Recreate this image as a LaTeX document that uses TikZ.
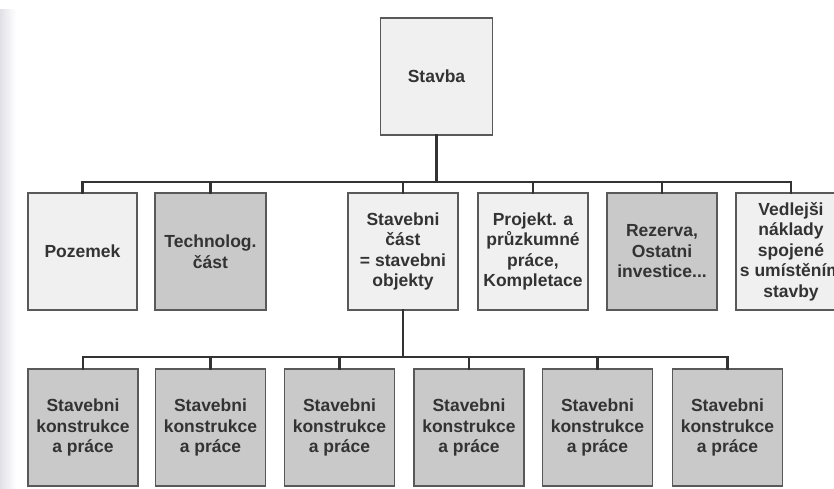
\documentclass[tikz,border=0pt]{standalone}
\usepackage{fontspec}
\setmainfont{Liberation Sans}
\definecolor{paperedge}{HTML}{E2E0E8}
\definecolor{boxlight}{HTML}{F0F0F0}
\definecolor{boxgrey}{HTML}{C9C9C9}
\definecolor{inkgrey}{HTML}{333333}
\tikzset
{
	my box/.style={draw=black!65,line width=1.2pt,fill=boxlight,text=inkgrey,
		minimum width=110pt,minimum height=117pt,inner sep=0pt,align=center,
		font=\bfseries\fontsize{17.5}{20.5}\selectfont},
	my grey box/.style={my box,fill=boxgrey},
	my line/.style={line width=2.5pt,draw=inkgrey}
}

\begin{document}
\begin{tikzpicture}[x=1pt,y=-1pt,line cap=rect,line join=miter]
		\useasboundingbox (0,0) rectangle (834,489);
		% paper edge
		\fill[left color=paperedge,right color=white] (0,10) rectangle (16,489);
		% top
		\node[my box,minimum width=112pt] (stavba) at (436.5,76.5) {Stavba};
		% first row
		\node[my box,minimum width=109pt] (pozemek) at (82.5,251.5) {Pozemek};
		\node[my grey box,minimum width=111pt] (technolog) at (210.5,251.5) {Technolog.\\část};
		\node[my box] (stavcast) at (403,251.5) {Stavebni\\část\\= stavebni\\objekty};
		\node[my box] (projekt) at (533,251.5) {Projekt. a\\průzkumné\\práce,\\Kompletace};
		\node[my grey box] (rezerva) at (662,251.5) {Rezerva,\\Ostatni\\investice...};
		\node[my box] (vedlejsi) at (791,251.5) {Vedlejši\\náklady\\spojené\\s umístěním\\stavby};
		% second row
		\foreach[count=\j]\i in {83,210.5,339.5,469,597.5,727.5}
		\node[my grey box] (konstr\j) at (\i,427.5) {Stavebni\\konstrukce\\a práce};
		% connectors
		\coordinate (bar1) at (436.5,182);
		\coordinate (bar2) at (403,357);
		\draw[my line] (stavba.south) -- (bar1);
		\foreach\n in {pozemek,technolog,stavcast,projekt,rezerva,vedlejsi}
		\draw[my line] (bar1) -| (\n.north);
		\draw[my line] (stavcast.south) -- (bar2);
		\foreach\j in {1,...,6}
		\draw[my line] (bar2) -| (konstr\j.north);
	\end{tikzpicture}
\end{document}
